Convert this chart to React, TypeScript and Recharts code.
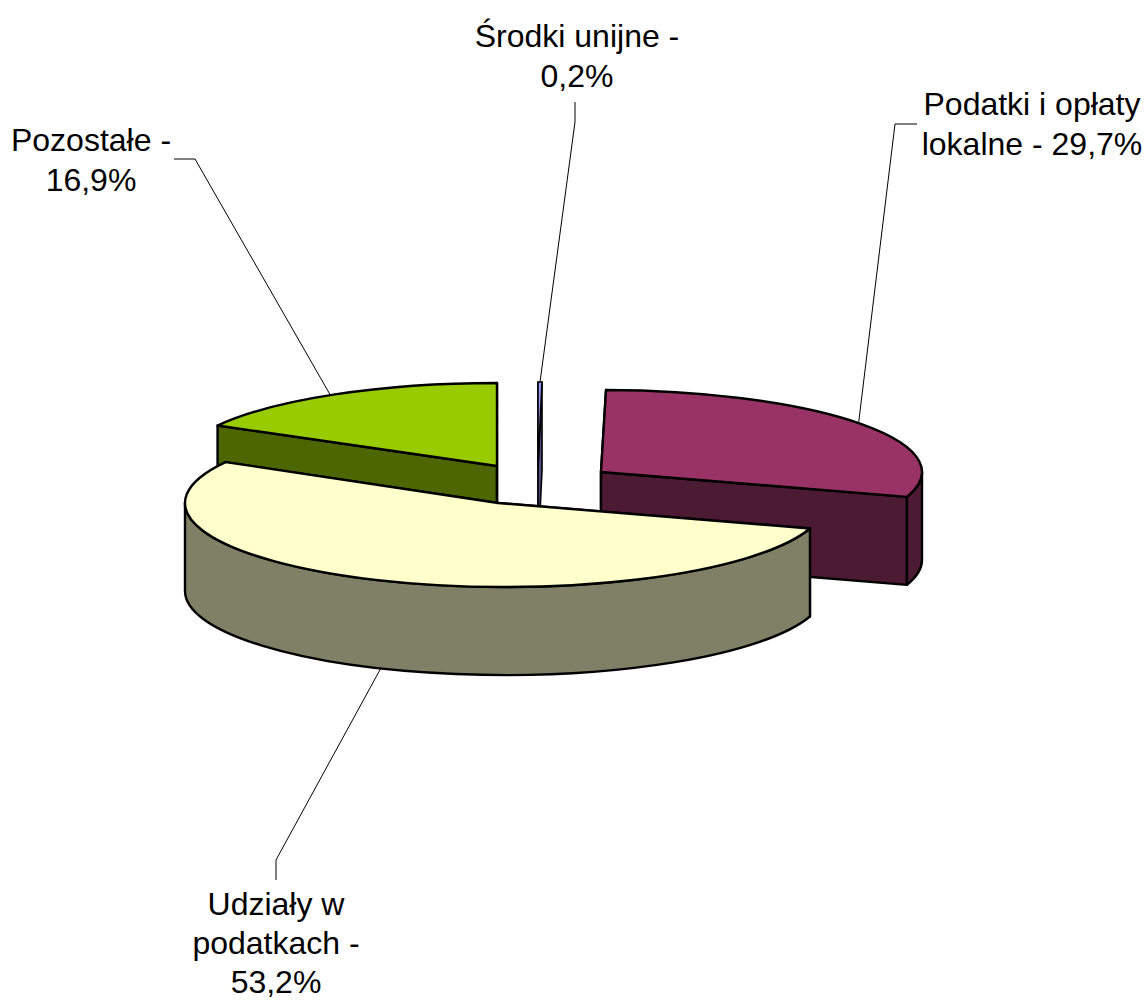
import React from "react";
import { PieChart, Pie } from "recharts";

// drawn back to front, so the list starts at the slice furthest behind
const categories = ["Pozostałe", "Środki unijne", "Podatki i opłaty lokalne", "Udziały w podatkach"];
const shares = [16.9, 0.2, 29.7, 53.2];
const topColors = ["#99CC00", "#9999FF", "#993366", "#FFFFCC"];
const sideColors = ["#4D6600", "#4D4D80", "#4D1A33", "#808066"];
const labelLines = [
  ["Pozostałe -", "16,9%"],
  ["Środki unijne -", "0,2%"],
  ["Podatki i opłaty", "lokalne - 29,7%"],
  ["Udziały w", "podatkach -", "53,2%"],
];

const WIDTH = 1147;
const HEIGHT = 1000;
const CX = 497;
const CY = 466;
const RADIUS = 320;
const DEPTH = 88;
const FONT_SIZE = 32;

// explosion of each slice, relative to CX/CY. ex = ellipse centre, ax = apex (perspective skew), ry = squashed radius
const explode = [
  { ex: 0, ax: 0, dy: 0, ry: 83 },
  { ex: 41, ax: 41, dy: 0, ry: 84 },
  { ex: 105, ax: 104, dy: 6, ry: 82 },
  { ex: 8, ax: 1, dy: 37, ry: 84 },
];

// where each label sits and how its leader runs
const labelBoxes = [
  { x: 91, y: 151, lineHeight: 40, nudge: -5, elbow: [[195, 159], [174, 159]] },
  { x: 577, y: 47, lineHeight: 40, nudge: 0, elbow: [[575, 122], [575, 102]] },
  { x: 1032, y: 115, lineHeight: 40, nudge: -3, elbow: [[895, 124], [917, 124]] },
  { x: 276, y: 915, lineHeight: 39, nudge: 3, elbow: [[276, 860], [276, 880]] },
];

const tableData = categories.map((name, i) => ({ name, value: shares[i], fill: topColors[i] }));

// first slice in the list ends at 12 o'clock, so the pie starts one slice earlier
const startAngle = 90 + (shares[0] / 100) * 360;
const endAngle = startAngle - 360;

// theta is clockwise from 12 o'clock
const ellipsePoint = (ox: number, oy: number, ry: number, theta: number) => {
  const rad = (theta * Math.PI) / 180;
  return [ox + RADIUS * Math.sin(rad), oy - ry * Math.cos(rad)];
};

const arcTo = (ox: number, oy: number, ry: number, theta: number, large: boolean, sweep: number) => {
  const [x, y] = ellipsePoint(ox, oy, ry, theta);
  return `A ${RADIUS} ${ry} 0 ${large ? 1 : 0} ${sweep} ${x} ${y}`;
};

const normalize = (theta: number) => ((theta % 360) + 360) % 360;

const Slice3D = (props: any) => {
  const { cx, cy, startAngle: sa, endAngle: ea, index } = props;
  const { ex, ax, dy, ry } = explode[index];
  const ox = cx + ex;
  const oy = cy + dy;
  const apexX = cx + ax;
  const t1 = normalize(90 - sa);
  const t2 = t1 + (sa - ea);
  const large = t2 - t1 > 180;
  const [x1, y1] = ellipsePoint(ox, oy, ry, t1);
  const [x2, y2] = ellipsePoint(ox, oy, ry, t2);

  const face = (x: number, y: number) =>
    `M ${apexX} ${oy} L ${x} ${y} L ${x} ${y + DEPTH} L ${apexX} ${oy + DEPTH} Z`;

  // outer wall only shows on the front half of the ellipse
  const wallFrom = Math.max(t1, 90);
  const wallTo = Math.min(t2, 270);
  let wall = null;
  if (wallTo > wallFrom) {
    const [wx1, wy1] = ellipsePoint(ox, oy, ry, wallFrom);
    const [wx2, wy2] = ellipsePoint(ox, oy, ry, wallTo);
    const big = wallTo - wallFrom > 180;
    wall =
      `M ${wx1} ${wy1} ` +
      arcTo(ox, oy, ry, wallTo, big, 1) +
      ` L ${wx2} ${wy2 + DEPTH} ` +
      arcTo(ox, oy + DEPTH, ry, wallFrom, big, 0) +
      " Z";
  }

  const top = `M ${apexX} ${oy} L ${x1} ${y1} ` + arcTo(ox, oy, ry, t2, large, 1) + " Z";
  const side = sideColors[index];
  // the sliver would turn solid black with the full outline
  const common = { stroke: "#000", strokeWidth: t2 - t1 < 5 ? 1.6 : 2.4, strokeLinejoin: "round" as const };

  return (
    <g>
      <path d={face(x1, y1)} fill={side} {...common} />
      <path d={face(x2, y2)} fill={side} {...common} />
      {wall && <path d={wall} fill={side} {...common} />}
      <path d={top} fill={topColors[index]} {...common} />
    </g>
  );
};

const SliceLabel = (props: any) => {
  const { cx, cy, midAngle, index } = props;
  const { ex, dy, ry } = explode[index];
  const theta = normalize(90 - midAngle);
  const box = labelBoxes[index];
  let [sx, sy] = ellipsePoint(cx + ex, cy + dy, ry, theta);
  sx += box.nudge;
  if (theta > 90 && theta < 270) sy += DEPTH; // leader leaves from the bottom of the wall
  const pts = [[sx, sy], ...box.elbow].map((p) => p.join(",")).join(" ");
  return (
    <g>
      <polyline points={pts} fill="none" stroke="#000" strokeWidth={1} />
      <text
        x={box.x}
        y={box.y}
        textAnchor="middle"
        fontFamily="'Liberation Sans', Arial, sans-serif"
        fontSize={FONT_SIZE}
        fill="#000"
      >
        {labelLines[index].map((line, i) => (
          <tspan key={i} x={box.x} y={box.y + i * box.lineHeight}>
            {line}
          </tspan>
        ))}
      </text>
    </g>
  );
};

export default function App() {
  return (
    <div style={{ position: "absolute", left: 0, top: 0, width: WIDTH, height: HEIGHT, background: "#fff" }}>
      <PieChart width={WIDTH} height={HEIGHT} margin={{ top: 0, right: 0, bottom: 0, left: 0 }}>
        <Pie
          data={tableData}
          dataKey="value"
          nameKey="name"
          cx={CX}
          cy={CY}
          outerRadius={RADIUS}
          startAngle={startAngle}
          endAngle={endAngle}
          shape={Slice3D}
          label={SliceLabel}
          labelLine={false}
          isAnimationActive={false}
        />
      </PieChart>
    </div>
  );
}
